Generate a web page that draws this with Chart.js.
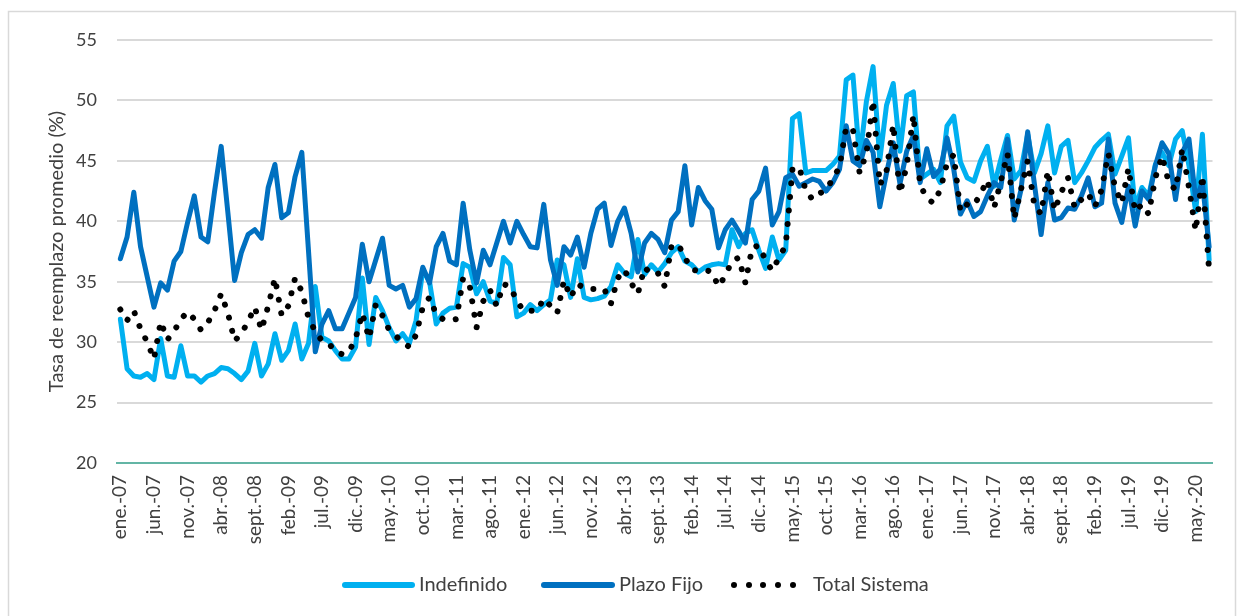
<!DOCTYPE html>
<html>
<head>
<meta charset="utf-8">
<script src="https://cdn.jsdelivr.net/npm/chart.js@4.4.0/dist/chart.umd.min.js"></script>
<style>
    html, body { margin: 0; padding: 0; background: #fff; }
    #wrap { position: relative; width: 1244px; height: 616px; }
</style>
</head>
<body>
<div id="wrap"><canvas id="grafico" width="1244" height="616"></canvas></div>
<script>
// Meses y años del eje (ene.-07 ... jul.-20)
const meses = ["ene.", "feb.", "mar.", "abr.", "may.", "jun.", "jul.", "ago.", "sept.", "oct.", "nov.", "dic."];
const anios = ["07", "08", "09", "10", "11", "12", "13", "14", "15", "16", "17", "18", "19", "20"];
const totalMeses = 163;

// Tasa de reemplazo promedio (%), una fila por año
const indefinido = [
    31.9, 27.8, 27.2, 27.1, 27.4, 26.9, 30.3, 27.2, 27.1, 29.7, 27.2, 27.2,
    26.7, 27.2, 27.4, 27.9, 27.8, 27.4, 26.9, 27.6, 29.9, 27.2, 28.2, 30.7,
    28.5, 29.3, 31.5, 28.6, 29.9, 34.6, 30.4, 30.1, 29.3, 28.6, 28.6, 29.6,
    35.3, 29.8, 33.7, 32.6, 31.2, 30.1, 30.7, 29.9, 31.8, 36.0, 35.0, 31.5,
    32.4, 32.8, 32.9, 36.5, 36.2, 34.0, 35.0, 33.4, 33.2, 37.0, 36.4, 32.1,
    32.4, 33.1, 32.6, 33.1, 33.5, 36.8, 36.4, 33.7, 36.9, 33.7, 33.5, 33.6,
    33.8, 34.6, 36.4, 35.7, 35.4, 38.5, 35.6, 36.4, 35.8, 36.5, 37.4, 37.9,
    36.7, 36.4, 35.8, 36.2, 36.4, 36.5, 36.4, 39.3, 37.9, 39.0, 39.3, 37.6,
    36.1, 38.7, 36.8, 37.6, 48.5, 48.9, 44.0, 44.2, 44.2, 44.2, 44.7, 45.4,
    51.7, 52.1, 45.1, 49.9, 52.8, 45.1, 49.6, 51.4, 45.8, 50.4, 50.7, 43.5,
    43.9, 44.3, 43.2, 47.9, 48.7, 44.9, 43.6, 43.3, 45.0, 46.2, 42.9, 45.1,
    47.1, 43.5, 44.2, 47.2, 44.0, 45.6, 47.9, 44.0, 46.2, 46.7, 43.2, 44.0,
    45.0, 46.1, 46.7, 47.2, 43.9, 45.4, 46.9, 41.1, 42.8, 42.1, 44.7, 45.7,
    44.6, 46.8, 47.5, 44.6, 40.8, 47.2, 36.8
];

const plazoFijo = [
    36.9, 38.7, 42.4, 37.9, 35.4, 32.9, 34.9, 34.3, 36.7, 37.5, 39.9, 42.1,
    38.7, 38.3, 42.4, 46.2, 40.7, 35.1, 37.4, 38.9, 39.3, 38.6, 42.8, 44.7,
    40.3, 40.7, 43.7, 45.7, 37.5, 29.2, 31.5, 32.6, 31.1, 31.1, 32.4, 33.7,
    38.1, 35.0, 36.8, 38.6, 34.7, 34.4, 34.7, 32.9, 33.6, 36.2, 34.9, 37.9,
    39.0, 36.7, 36.4, 41.5, 37.6, 34.9, 37.6, 36.4, 38.2, 40.0, 38.2, 40.0,
    38.9, 37.9, 37.8, 41.4, 36.8, 34.7, 37.9, 37.2, 38.7, 36.2, 39.0, 41.0,
    41.5, 38.0, 40.0, 41.1, 39.0, 35.8, 38.2, 39.0, 38.5, 37.4, 40.1, 40.8,
    44.6, 39.7, 42.8, 41.7, 41.0, 37.8, 39.3, 40.1, 39.2, 38.2, 41.8, 42.5,
    44.4, 39.7, 40.8, 43.6, 43.9, 42.9, 43.2, 43.5, 43.3, 42.5, 43.2, 44.3,
    47.9, 45.0, 44.6, 46.7, 45.7, 41.2, 44.0, 46.5, 43.1, 45.8, 47.1, 43.2,
    46.0, 43.7, 44.3, 46.9, 44.3, 40.6, 41.7, 40.4, 40.8, 42.1, 43.2, 42.8,
    46.8, 40.1, 42.6, 47.4, 43.1, 38.9, 43.2, 40.1, 40.3, 41.1, 41.0, 42.1,
    43.6, 41.2, 41.5, 46.8, 41.5, 39.9, 42.9, 39.6, 42.5, 41.8, 44.6, 46.5,
    45.6, 41.8, 45.7, 46.8, 41.8, 43.2, 37.9
];

const totalSistema = [
    32.7, 31.8, 32.6, 31.1, 30.0, 28.6, 31.7, 30.2, 30.9, 31.9, 32.5, 31.9,
    31.0, 31.6, 32.6, 34.0, 32.4, 30.1, 30.7, 31.7, 32.9, 31.0, 33.0, 35.3,
    32.2, 33.0, 35.3, 34.2, 32.0, 30.9, 30.1, 29.9, 29.2, 29.0, 29.2, 30.3,
    32.4, 30.3, 33.1, 32.2, 31.0, 30.5, 30.0, 29.6, 30.6, 32.9, 33.7, 32.3,
    31.9, 31.8, 31.9, 35.3, 34.6, 31.2, 33.4, 34.3, 33.0, 34.8, 34.6, 33.4,
    32.6, 32.6, 32.6, 33.6, 33.0, 32.4, 35.1, 33.7, 34.8, 34.5, 34.4, 34.4,
    34.4, 33.2, 35.3, 36.0, 34.9, 34.0, 36.2, 35.6, 35.7, 34.6, 38.0, 38.1,
    37.0, 36.0, 35.9, 36.0, 35.8, 34.6, 35.5, 36.7, 37.0, 34.9, 37.8, 38.0,
    36.8, 35.9, 37.0, 38.0, 44.3, 44.5, 42.5, 41.8, 42.3, 42.6, 43.5, 44.5,
    47.8, 47.6, 44.0, 45.6, 50.0, 43.0, 44.2, 48.0, 42.3, 44.6, 48.8, 43.0,
    41.9, 41.5, 42.6, 44.8, 45.5, 40.8, 41.4, 41.3, 42.3, 43.4, 41.1, 43.3,
    45.6, 40.2, 42.6, 45.0, 41.3, 40.6, 44.2, 40.9, 42.4, 43.6, 41.1, 41.8,
    42.3, 41.2, 42.6, 45.6, 42.8, 41.5, 44.4, 40.8, 41.4, 40.6, 43.6, 45.4,
    43.2, 42.6, 46.0, 42.8, 39.2, 43.8, 35.9
];

const etiquetas = [];
for (let i = 0; i < totalMeses; i++) {
    etiquetas.push(meses[i % 12] + "-" + anios[Math.floor(i / 12)]);
}

const colorTexto = "#404040";
const fuente = "Lato";

// Marco gris del área del gráfico
const marco = {
    id: "marco",
    beforeDraw(chart) {
        const ctx = chart.ctx;
        ctx.save();
        ctx.fillStyle = "#fff";
        ctx.fillRect(0, 0, chart.width, chart.height);
        ctx.strokeStyle = "#d9d9d9";
        ctx.lineWidth = 1.5;
        ctx.strokeRect(8.5, 11.5, 1227, 700);
        ctx.restore();
    }
};

// Leyenda dibujada a mano (líneas + puntos)
const leyenda = {
    id: "leyenda",
    afterDraw(chart) {
        const ctx = chart.ctx;
        const y = 585;
        ctx.save();
        ctx.lineCap = "round";
        ctx.lineWidth = 6;

        ctx.strokeStyle = "#00b0f0";
        ctx.beginPath(); ctx.moveTo(345, y); ctx.lineTo(412, y); ctx.stroke();

        ctx.strokeStyle = "#0070c0";
        ctx.beginPath(); ctx.moveTo(544, y); ctx.lineTo(612, y); ctx.stroke();

        ctx.fillStyle = "#000";
        [734, 749, 763, 778, 793].forEach(x => {
            ctx.beginPath(); ctx.arc(x, y, 3, 0, Math.PI * 2); ctx.fill();
        });

        ctx.fillStyle = colorTexto;
        ctx.font = "20px " + fuente;
        ctx.textBaseline = "middle";
        ctx.fillText("Indefinido", 419, y);
        ctx.fillText("Plazo Fijo", 619, y);
        ctx.fillText("Total Sistema", 813, y);
        ctx.restore();
    }
};

new Chart(document.getElementById("grafico"), {
    type: "line",
    data: {
        labels: etiquetas,
        datasets: [
            {
                label: "Indefinido",
                data: indefinido,
                borderColor: "#00b0f0",
                borderWidth: 5,
                order: 3
            },
            {
                label: "Plazo Fijo",
                data: plazoFijo,
                borderColor: "#0070c0",
                borderWidth: 5,
                order: 2
            },
            {
                label: "Total Sistema",
                data: totalSistema,
                borderColor: "#000",
                borderWidth: 6,
                borderDash: [0.01, 13.6],
                order: 1
            }
        ]
    },
    options: {
        responsive: false,
        animation: false,
        devicePixelRatio: 1,
        layout: { padding: { left: 0, right: 22, top: 40, bottom: 0 } },
        elements: {
            point: { radius: 0 },
            line: { tension: 0, borderCapStyle: "round", borderJoinStyle: "round" }
        },
        plugins: {
            legend: { display: false },
            tooltip: { enabled: false }
        },
        scales: {
            x: {
                offset: true,
                grid: { display: false, drawTicks: false },
                border: { display: true, color: "#63b5a5", width: 2 },
                ticks: {
                    autoSkip: false,
                    minRotation: 90,
                    maxRotation: 90,
                    padding: 12,
                    color: colorTexto,
                    font: { family: fuente, size: 19 },
                    callback: (v, i) => (i % 5 === 0 ? etiquetas[i] : "")
                },
                afterFit: (s) => { s.height = 153; }
            },
            y: {
                min: 20,
                max: 55,
                ticks: {
                    stepSize: 5,
                    padding: 20,
                    color: colorTexto,
                    font: { family: fuente, size: 18 }
                },
                grid: { color: "#d9d9d9", lineWidth: 2, drawTicks: false },
                border: { display: false },
                title: {
                    display: true,
                    text: "Tasa de reemplazo promedio (%)",
                    color: colorTexto,
                    font: { family: fuente, size: 20 },
                    padding: { top: 45, bottom: 0 }
                },
                afterFit: (s) => { s.width = 117; }
            }
        }
    },
    plugins: [marco, leyenda]
});
</script>
</body>
</html>
